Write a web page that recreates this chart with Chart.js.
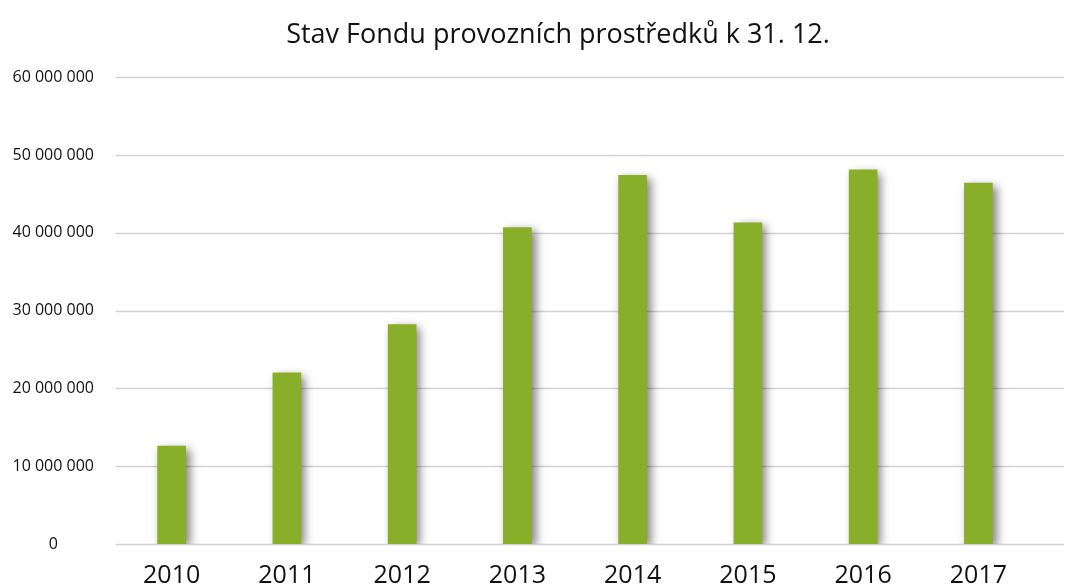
<!DOCTYPE html>
<html>
<head>
<meta charset="utf-8">
<script src="https://cdn.jsdelivr.net/npm/chart.js@4"></script>
<style>
  html, body { margin: 0; padding: 0; background: #fff; }
  #wrap { width: 1065px; height: 585px; }
</style>
</head>
<body>
<div id="wrap"><canvas id="graf"></canvas></div>
<script>
var roky = ['2010', '2011', '2012', '2013', '2014', '2015', '2016', '2017'];
var stavFondu = [12600000, 22000000, 28200000, 40700000, 47400000, 41300000, 48100000, 46400000];
var nadpis = 'Stav Fondu provozních prostředků k 31. 12.';

var barvaSloupcu = '#89ae2a';
var barvaMrizky = '#d2d2d2';

// mrizka pres celou sirku (v originalu jde az k pravemu okraji)
var mrizka = {
    id: 'mrizka',
    afterLayout: function (chart) {
        // nadpis je v originalu posunuty doprava
        if (chart.titleBlock) chart.titleBlock.left = 80;
    },
    beforeDatasetsDraw: function (chart) {
        var ctx = chart.ctx;
        var y = chart.scales.y;
        var a = chart.chartArea;
        ctx.save();
        ctx.strokeStyle = barvaMrizky;
        ctx.lineWidth = 1.5;
        y.ticks.forEach(function (t) {
            var py = Math.round(y.getPixelForValue(t.value)) + 0.5;
            ctx.beginPath();
            ctx.moveTo(a.left + 1.5, py);
            ctx.lineTo(a.right + 28, py);
            ctx.stroke();
        });
        ctx.restore();
        // stin pod sloupci
        ctx.save();
        ctx.shadowColor = 'rgba(0,0,0,0.5)';
        ctx.shadowBlur = 9;
        ctx.shadowOffsetX = 4;
        ctx.shadowOffsetY = 3;
    },
    afterDatasetsDraw: function (chart) {
        chart.ctx.restore();
    }
};

new Chart(document.getElementById('graf'), {
    type: 'bar',
    data: {
        labels: roky,
        datasets: [{
            data: stavFondu,
            backgroundColor: barvaSloupcu,
            borderWidth: 0,
            barThickness: 28
        }]
    },
    options: {
        responsive: true,
        maintainAspectRatio: false,
        animation: false,
        layout: { padding: { left: 0, right: 29, top: 0, bottom: 0 } },
        plugins: {
            legend: { display: false },
            tooltip: { enabled: false },
            title: {
                display: true,
                text: nadpis,
                color: '#111',
                font: { family: 'Open Sans', size: 27, weight: 'normal' },
                padding: { top: 19, bottom: 26 }
            }
        },
        scales: {
            x: {
                grid: { display: false, drawTicks: false },
                border: { display: false },
                ticks: {
                    color: '#111',
                    padding: 17,
                    font: { family: 'Open Sans', size: 25 }
                },
                afterFit: function (s) { s.height = 41; }
            },
            y: {
                min: 0,
                max: 60000000,
                grid: { display: false, drawTicks: false },
                border: { display: false },
                ticks: {
                    stepSize: 10000000,
                    color: '#111',
                    padding: 20,
                    crossAlign: 'center',
                    font: { family: 'Open Sans', size: 16 },
                    callback: function (v) {
                        return String(v).replace(/\B(?=(\d{3})+(?!\d))/g, ' ');
                    }
                },
                afterFit: function (s) { s.width = 114; }
            }
        }
    },
    plugins: [mrizka]
});
</script>
</body>
</html>
